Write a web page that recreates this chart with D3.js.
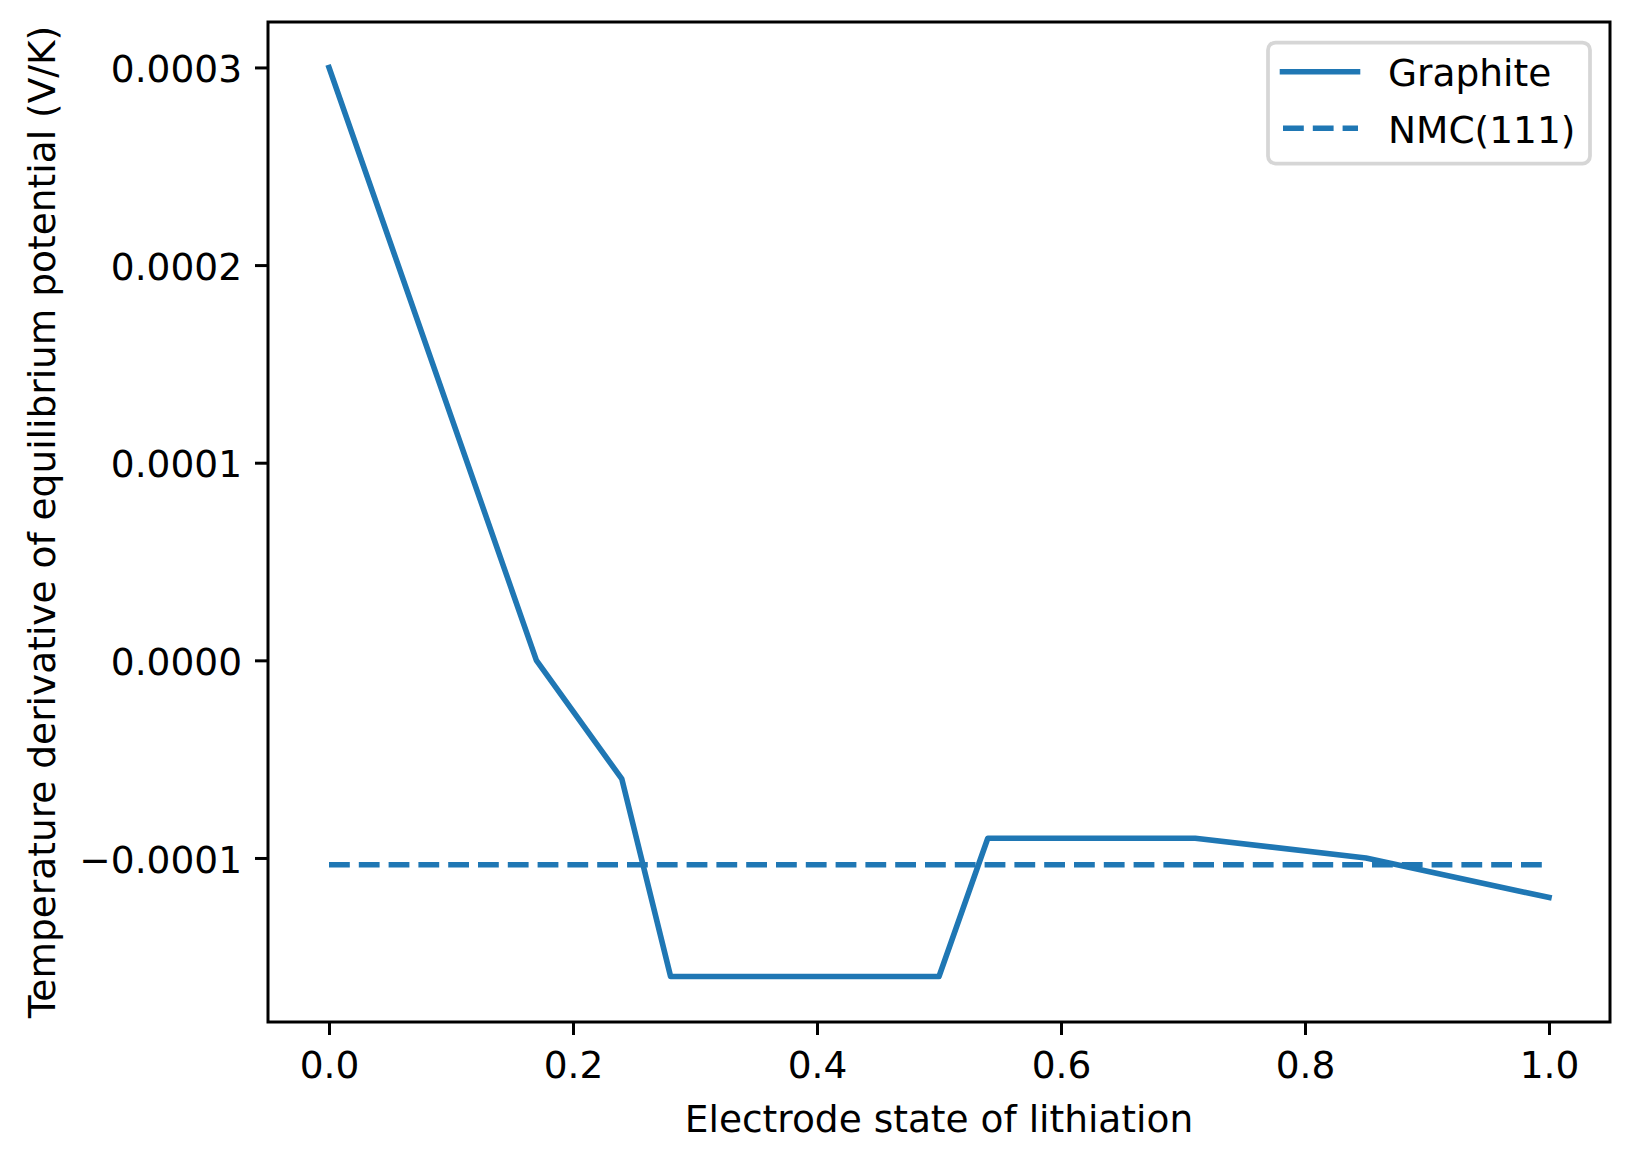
<!DOCTYPE html>
<html>
<head>
<meta charset="utf-8">
<script src="https://cdn.jsdelivr.net/npm/d3@7"></script>
<style>
  html, body { margin: 0; padding: 0; background: #fff; }
  svg { display: block; }
  text { font-family: "DejaVu Sans", sans-serif; fill: #000; }
</style>
</head>
<body>
<svg id="chart" width="1628" height="1152"></svg>
<script>
// ---- data ----
const socGraphite = [0, 0.17, 0.24, 0.28, 0.5, 0.54, 0.71, 0.85, 1.0];
const dUdTGraphite = [0.0003, 0, -0.00006, -0.00016, -0.00016, -0.00009, -0.00009, -0.0001, -0.00012];
const socNMC = [0, 1.0];
const dUdTNMC = [-0.0001034, -0.0001034];
const xTicks = [0, 0.2, 0.4, 0.6, 0.8, 1.0];
const yTicks = [-0.0001, 0, 0.0001, 0.0002, 0.0003];
const seriesNames = ["Graphite", "NMC(111)"];
const xLabel = "Electrode state of lithiation";
const yLabel = "Temperature derivative of equilibrium potential (V/K)";

// ---- layout ----
const W = 1628, H = 1152;
const L = 268, R = 1610, T = 22, B = 1022;
const fs = 37.5;
const color = "#1f77b4";
const lw = 5.6;

const svg = d3.select("#chart");
svg.append("rect").attr("width", W).attr("height", H).attr("fill", "#fff");

const x = d3.scaleLinear().domain([-0.05, 1.05]).range([L, R]);
const y = d3.scaleLinear().domain([-0.000183, 0.000323]).range([B, T]);

// lines
const g = svg.append("g");
const line = d3.line().x(d => x(d[0])).y(d => y(d[1]));
g.append("path")
  .datum(socGraphite.map((s, i) => [s, dUdTGraphite[i]]))
  .attr("d", line).attr("fill", "none").attr("stroke", color)
  .attr("stroke-width", lw).attr("stroke-linecap", "square").attr("stroke-linejoin", "round");
g.append("path")
  .datum(socNMC.map((s, i) => [s, dUdTNMC[i]]))
  .attr("d", line).attr("fill", "none").attr("stroke", color)
  .attr("stroke-width", lw).attr("stroke-linecap", "butt")
  .attr("stroke-dasharray", "20.8,9");

// axes
const xAxis = d3.axisBottom(x).tickValues(xTicks).tickFormat(d3.format(".1f"))
  .tickSize(13).tickSizeOuter(0).tickPadding(13);
const yAxis = d3.axisLeft(y).tickValues(yTicks).tickFormat(d3.format(".4f"))
  .tickSize(13).tickSizeOuter(0).tickPadding(13);

const gx = svg.append("g").attr("transform", `translate(0,${B})`).call(xAxis);
const gy = svg.append("g").attr("transform", `translate(${L},0)`).call(yAxis);
[gx, gy].forEach(a => {
  a.select(".domain").remove();
  a.selectAll(".tick line").attr("stroke", "#000").attr("stroke-width", 3);
  a.selectAll(".tick text").attr("font-size", fs).attr("font-family", "DejaVu Sans").attr("fill", "#000");
});
gx.selectAll(".tick text").attr("y", 56).attr("dy", 0);
gy.selectAll(".tick text").attr("x", -26).attr("dy", "0.38em");

// spines
svg.append("rect").attr("x", L).attr("y", T).attr("width", R - L).attr("height", B - T)
  .attr("fill", "none").attr("stroke", "#000").attr("stroke-width", 3);

// axis labels
svg.append("text").attr("x", (L + R) / 2).attr("y", 1132)
  .attr("text-anchor", "middle").attr("font-size", fs).text(xLabel);
svg.append("text").attr("transform", `translate(54.5,${(T + B) / 2}) rotate(-90)`)
  .attr("text-anchor", "middle").attr("font-size", fs).text(yLabel);

// legend
const lg = svg.append("g");
lg.append("rect").attr("x", 1268).attr("y", 42.5).attr("width", 322).attr("height", 121)
  .attr("rx", 7.5).attr("ry", 7.5)
  .attr("fill", "#fff").attr("fill-opacity", 0.8)
  .attr("stroke", "#cccccc").attr("stroke-opacity", 0.8).attr("stroke-width", 3.75);
const legendY = [71.7, 128.3];
seriesNames.forEach((name, i) => {
  const ln = lg.append("line").attr("x1", i === 0 ? 1282.5 : 1283).attr("x2", i === 0 ? 1357.5 : 1358)
    .attr("y1", legendY[i]).attr("y2", legendY[i])
    .attr("stroke", color).attr("stroke-width", lw);
  if (i === 0) ln.attr("stroke-linecap", "square");
  else ln.attr("stroke-linecap", "butt").attr("stroke-dasharray", "20.8,9");
  lg.append("text").attr("x", 1388).attr("y", legendY[i] + 14.6)
    .attr("font-size", fs).text(name);
});
</script>
</body>
</html>
